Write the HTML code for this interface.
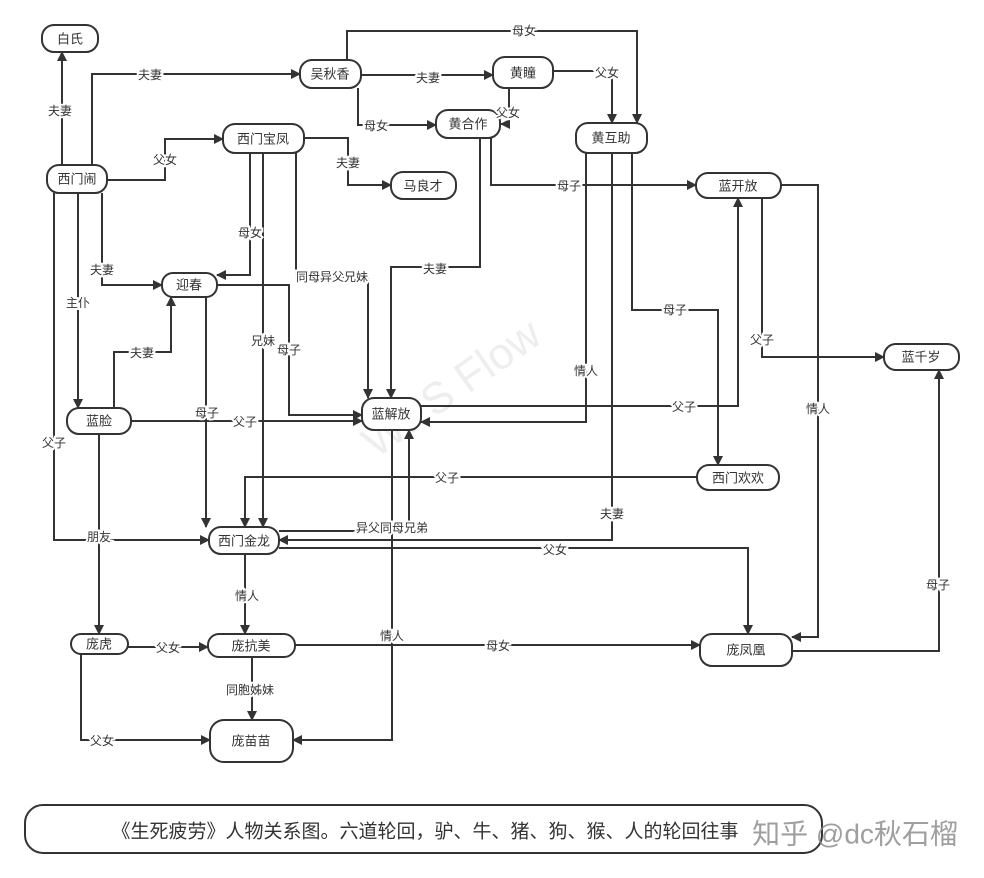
<!DOCTYPE html>
<html><head><meta charset="utf-8"><style>
html,body{margin:0;padding:0;background:#fff;}
svg{display:block;font-family:"Liberation Sans","Noto Sans CJK SC",sans-serif;}
.n{fill:#fff;stroke:#333;stroke-width:2;}
.e{fill:none;stroke:#333;stroke-width:2;}
.t{font-size:13px;fill:#333;text-anchor:middle;dominant-baseline:central;}
.l{font-size:12px;fill:#333;text-anchor:middle;dominant-baseline:central;paint-order:stroke;stroke:#fff;stroke-width:4px;}
</style></head><body>
<svg width="984" height="878" viewBox="0 0 984 878">
<defs><marker id="a" markerWidth="10" markerHeight="10" refX="9" refY="5" orient="auto" markerUnits="userSpaceOnUse"><path d="M0,0 L10,5 L0,10 z" fill="#333"/></marker></defs>
<text x="460" y="400" transform="rotate(-35 460 400)" style="font-size:44px;fill:#eee;text-anchor:middle">WPS Flow</text>
<g class="e" marker-end="url(#a)">
<path d="M62,165 V52"/>
<path d="M92,165 V74 H300"/>
<path d="M107,180 H165 V139 H223"/>
<path d="M102,193 V285 H162"/>
<path d="M78,193 V408"/>
<path d="M54,193 V540 H209"/>
<path d="M361,75 H493"/>
<path d="M358,88 V125 H436"/>
<path d="M347,60 V31 H637 V123"/>
<path d="M553,71 H612 V123"/>
<path d="M509,88 V124 H501"/>
<path d="M491,138 V185 H696"/>
<path d="M480,138 V267 H391 V398"/>
<path d="M304,138 H348 V185 H391"/>
<path d="M250,153 V275 H217"/>
<path d="M263,153 V527"/>
<path d="M296,153 V277 H368 V398"/>
<path d="M217,285 H289 V415 H362"/>
<path d="M206,297 V527"/>
<path d="M114,408 V352 H171 V297"/>
<path d="M131,421 H362"/>
<path d="M99,434 V634"/>
<path d="M586,153 V422 H421"/>
<path d="M612,153 V540 H279"/>
<path d="M632,153 V310 H718 V465"/>
<path d="M762,198 V357 H884"/>
<path d="M781,185 H818 V637 H792"/>
<path d="M421,406 H738 V198"/>
<path d="M697,477 H245 V527"/>
<path d="M279,531 H409 V430"/>
<path d="M279,548 H748 V634"/>
<path d="M245,554 V634"/>
<path d="M128,647 H208"/>
<path d="M81,654 V740 H210"/>
<path d="M252,657 V720"/>
<path d="M295,645 H700"/>
<path d="M392,430 V740 H293"/>
<path d="M792,651 H939 V370"/>
</g>
<g>
<rect class="n" x="42" y="25" width="56" height="27" rx="12"/><text class="t" x="70" y="39">白氏</text>
<rect class="n" x="47" y="165" width="60" height="28" rx="12"/><text class="t" x="77" y="179">西门闹</text>
<rect class="n" x="300" y="60" width="61" height="28" rx="12"/><text class="t" x="330" y="74">吴秋香</text>
<rect class="n" x="493" y="57" width="60" height="31" rx="12"/><text class="t" x="523" y="73">黄瞳</text>
<rect class="n" x="436" y="110" width="64" height="28" rx="12"/><text class="t" x="468" y="124">黄合作</text>
<rect class="n" x="576" y="123" width="71" height="30" rx="12"/><text class="t" x="611" y="138">黄互助</text>
<rect class="n" x="223" y="124" width="81" height="29" rx="12"/><text class="t" x="263" y="139">西门宝凤</text>
<rect class="n" x="391" y="172" width="65" height="27" rx="12"/><text class="t" x="423" y="186">马良才</text>
<rect class="n" x="162" y="273" width="55" height="24" rx="11"/><text class="t" x="189" y="285">迎春</text>
<rect class="n" x="67" y="408" width="64" height="26" rx="12"/><text class="t" x="99" y="421">蓝脸</text>
<rect class="n" x="362" y="398" width="59" height="32" rx="12"/><text class="t" x="391" y="414">蓝解放</text>
<rect class="n" x="696" y="173" width="85" height="25" rx="12"/><text class="t" x="738" y="186">蓝开放</text>
<rect class="n" x="884" y="344" width="75" height="26" rx="12"/><text class="t" x="921" y="357">蓝千岁</text>
<rect class="n" x="697" y="465" width="82" height="25" rx="12"/><text class="t" x="738" y="478">西门欢欢</text>
<rect class="n" x="209" y="527" width="70" height="27" rx="12"/><text class="t" x="244" y="541">西门金龙</text>
<rect class="n" x="71" y="634" width="57" height="20" rx="10"/><text class="t" x="99" y="644">庞虎</text>
<rect class="n" x="208" y="634" width="87" height="23" rx="11"/><text class="t" x="251" y="646">庞抗美</text>
<rect class="n" x="700" y="634" width="92" height="32" rx="12"/><text class="t" x="746" y="650">庞凤凰</text>
<rect class="n" x="210" y="720" width="83" height="42" rx="14"/><text class="t" x="251" y="741">庞苗苗</text>
</g>
<g>
<text class="l" x="60" y="111">夫妻</text>
<text class="l" x="150" y="75">夫妻</text>
<text class="l" x="165" y="160">父女</text>
<text class="l" x="102" y="270">夫妻</text>
<text class="l" x="78" y="303">主仆</text>
<text class="l" x="54" y="443">父子</text>
<text class="l" x="428" y="78">夫妻</text>
<text class="l" x="376" y="126">母女</text>
<text class="l" x="524" y="31">母女</text>
<text class="l" x="607" y="73">父女</text>
<text class="l" x="508" y="113">父女</text>
<text class="l" x="569" y="186">母子</text>
<text class="l" x="435" y="269">夫妻</text>
<text class="l" x="348" y="163">夫妻</text>
<text class="l" x="250" y="233">母女</text>
<text class="l" x="263" y="341">兄妹</text>
<text class="l" x="332" y="277">同母异父兄妹</text>
<text class="l" x="289" y="350">母子</text>
<text class="l" x="207" y="413">母子</text>
<text class="l" x="142" y="353">夫妻</text>
<text class="l" x="245" y="422">父子</text>
<text class="l" x="99" y="537">朋友</text>
<text class="l" x="586" y="371">情人</text>
<text class="l" x="612" y="514">夫妻</text>
<text class="l" x="675" y="310">母子</text>
<text class="l" x="762" y="340">父子</text>
<text class="l" x="818" y="409">情人</text>
<text class="l" x="684" y="407">父子</text>
<text class="l" x="447" y="478">父子</text>
<text class="l" x="392" y="528">异父同母兄弟</text>
<text class="l" x="555" y="550">父女</text>
<text class="l" x="247" y="596">情人</text>
<text class="l" x="168" y="648">父女</text>
<text class="l" x="102" y="741">父女</text>
<text class="l" x="250" y="690">同胞姊妹</text>
<text class="l" x="498" y="646">母女</text>
<text class="l" x="392" y="636">情人</text>
<text class="l" x="938" y="585">母子</text>
</g>
<rect class="n" x="25" y="805" width="797" height="48" rx="18"/>
<text x="425" y="832" style="font-size:19px;fill:#333;text-anchor:middle;dominant-baseline:central">《生死疲劳》人物关系图。六道轮回，驴、牛、猪、狗、猴、人的轮回往事</text>
<text x="855" y="834" style="font-size:28px;fill:#888;opacity:0.8;text-anchor:middle;dominant-baseline:central">知乎 @dc秋石榴</text>
</svg>
</body></html>
